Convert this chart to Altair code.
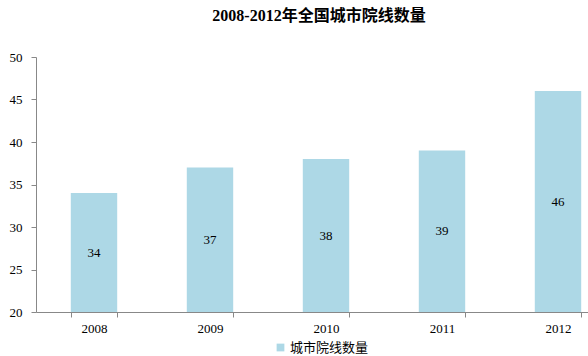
import altair as alt
import pandas as pd

years = ["2008", "2009", "2010", "2011", "2012"]
values = [34, 37, 38, 39, 46]
series_name = "城市院线数量"
title_text = "2008-2012年全国城市院线数量"
y_ticks = [20, 25, 30, 35, 40, 45, 50]

df = pd.DataFrame({"year": years, "value": values, "series": [series_name] * len(years)})

serif = "Liberation Serif, Noto Sans CJK SC"

base = alt.Chart(df).transform_calculate(mid="(datum.value + 20) / 2")

xscale = alt.Scale(domain=years, range=[0, 580], paddingInner=0.6, paddingOuter=0.3)

bars = base.mark_bar().encode(
    x=alt.X("year:N", title=None, sort=years, scale=xscale,
            axis=alt.Axis(labelAngle=0, tickBand="extent", domainColor="#888888",
                          tickColor="#888888", tickSize=5, labelFont=serif,
                          labelFontSize=13, labelColor="#000000", labelPadding=5)),
    y=alt.Y("value:Q", title=None,
            scale=alt.Scale(domain=[20, 50], zero=False, nice=False),
            axis=alt.Axis(values=y_ticks, grid=False, domainColor="#888888",
                          tickColor="#888888", tickSize=5, labelFont=serif,
                          labelFontSize=13, labelColor="#000000", labelPadding=9)),
    y2=alt.datum(20),
    color=alt.Color("series:N", title=None,
                    scale=alt.Scale(range=["#add8e6"]),
                    legend=alt.Legend(orient="none", legendX=238, legendY=284,
                                      direction="horizontal", symbolType="square",
                                      symbolSize=60, symbolStrokeWidth=0,
                                      labelFont="Noto Sans CJK SC", labelFontSize=13,
                                      labelColor="#000000", labelOffset=3)),
)

labels = base.mark_text(font=serif, fontSize=13, color="#000000").encode(
    x=alt.X("year:N", sort=years, scale=xscale),
    y=alt.Y("mid:Q"),
    text=alt.Text("value:Q"),
)

chart = (bars + labels).properties(
    width=552,
    height=255,
    autosize=alt.AutoSizeParams(type="none"),
    padding={"left": 36, "top": 57, "right": 0, "bottom": 44},
    title=alt.TitleParams(title_text, font=serif, fontSize=16, fontWeight="bold",
                          color="#000000", anchor="middle", offset=27, dx=7),
).configure_view(stroke=None).configure_axisY(domainWidth=1).configure_axisX(domainWidth=1)

chart.save("out.html", embed_options={"renderer": "svg", "actions": False})
